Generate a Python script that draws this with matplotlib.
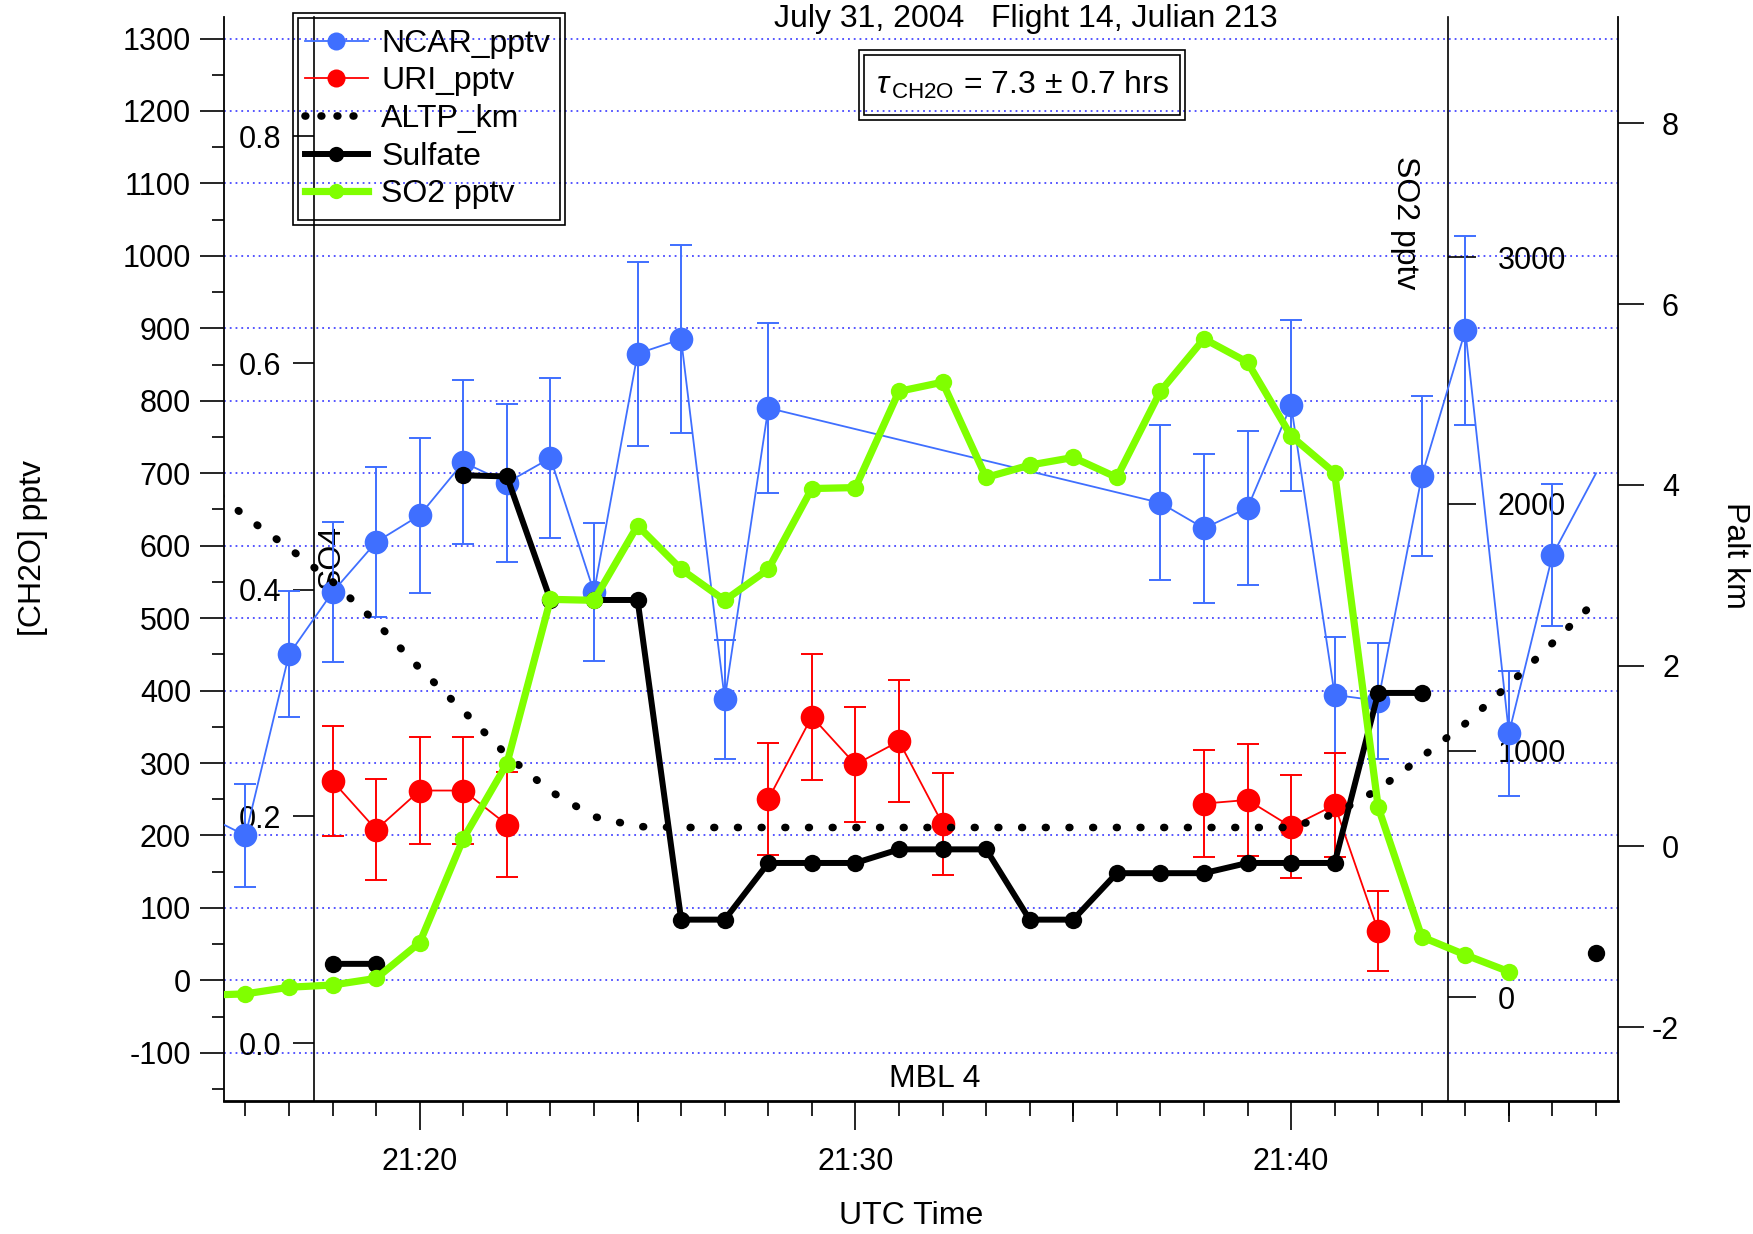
import numpy as np
import matplotlib
matplotlib.use("Agg")
import matplotlib.pyplot as plt
from matplotlib.ticker import FixedLocator, MultipleLocator, FormatStrFormatter
from matplotlib.patches import Rectangle
from matplotlib.lines import Line2D

plt.rcParams['font.family'] = ['Liberation Sans', 'DejaVu Sans']
plt.rcParams['axes.unicode_minus'] = False
plt.rcParams['mathtext.fontset'] = 'custom'
plt.rcParams['mathtext.rm'] = 'Liberation Sans'
plt.rcParams['mathtext.it'] = 'Liberation Sans:italic'

nan = np.nan

# time axis in minutes after 21:00 UTC
xticks = [20, 30, 40]
xticklabels = ['21:20', '21:30', '21:40']

# NCAR CH2O (pptv) with 1-sigma bars
ncar_t = [15, 16, 17, 18, 19, 20, 21, 22, 23, 24, 25, 26, 27, 28,
          37, 38, 39, 40, 41, 42, 43, 44, 45, 46, 47]
ncar = [230, 200, 450, 536, 605, 642, 715, 687, 721, 536, 865, 885, 388, 790,
        659, 624, 652, 794, 394, 386, 696, 897, 341, 587, 700]
ncar_err = [nan, 71, 87, 96, 103, 107, 113, 109, 111, 95, 127, 130, 82, 118,
            107, 103, 106, 118, 80, 80, 110, 130, 86, 98, nan]

# URI CH2O (pptv)
uri_t = list(range(18, 43))
uri = [275, 208, 262, 262, 215, nan, nan, nan, nan, nan,
       250, 364, 298, 330, 216, nan, nan, nan, nan, nan,
       244, 249, 212, 242, 68]
uri_err = [76, 70, 74, 74, 72, nan, nan, nan, nan, nan,
           77, 87, 79, 84, 70, nan, nan, nan, nan, nan,
           74, 77, 71, 72, 55]

# pressure altitude (km)
alt_t = list(range(15, 48))
altp = [4.05, 3.65, 3.30, 2.93, 2.48, 1.97, 1.50, 1.01, 0.61, 0.33, 0.22,
        0.21, 0.21, 0.21, 0.21, 0.21, 0.21, 0.21, 0.21, 0.21, 0.21, 0.21,
        0.21, 0.21, 0.21, 0.21, 0.36, 0.63, 0.99, 1.36, 1.79, 2.25, 2.72]

# sulfate (SO4 axis)
so4_t = list(range(18, 48))
so4 = [0.070, 0.070, nan, 0.501, 0.500, 0.391, 0.391, 0.391, 0.109, 0.109,
       0.159, 0.159, 0.159, 0.171, 0.171, 0.171, 0.109, 0.109, 0.150, 0.150,
       0.150, 0.159, 0.159, 0.159, 0.309, 0.309, nan, nan, nan, 0.080]

# SO2 (pptv)
so2_t = list(range(15, 46))
so2 = [8, 14, 41, 50, 77, 222, 643, 947, 1613, 1609, 1912, 1735, 1609, 1735,
       2062, 2066, 2456, 2493, 2107, 2157, 2188, 2107, 2456, 2669, 2574, 2275,
       2125, 770, 245, 172, 104]

blue = '#3f6fff'
red = '#ff0000'
green = '#80ff00'
gridc = '#4848ff'
FS = 23
TS = 22

fig = plt.figure(figsize=(17.53, 12.34), dpi=100)
ax = fig.add_axes([0.1276, 0.1075, 0.7953, 0.8789])

# main CH2O axis
ax.set_xlim(15.5, 47.5)
ax.set_ylim(-167, 1330)
ax.yaxis.set_major_locator(FixedLocator(range(-100, 1301, 100)))
ax.yaxis.set_minor_locator(MultipleLocator(50))
ax.grid(axis='y', which='major', color=gridc, lw=1.3, linestyle=(0, (1, 2.2)))
ax.xaxis.set_major_locator(FixedLocator(xticks))
ax.set_xticklabels(xticklabels)
ax.xaxis.set_minor_locator(MultipleLocator(1))
for s in ['top', 'right']:
    ax.spines[s].set_visible(False)
ax.spines['left'].set_linewidth(1.3)
ax.spines['bottom'].set_linewidth(2.0)
ax.tick_params(axis='x', which='major', length=21, width=1.2, pad=12, labelsize=TS)
ax.tick_params(axis='x', which='minor', length=10.5, width=1.2)
ax.tick_params(axis='y', which='major', length=17.5, width=1.2, pad=6, labelsize=TS)
ax.tick_params(axis='y', which='minor', length=8.5, width=1.2)

sec = ax.secondary_xaxis('bottom')
sec.set_xticks([25, 35, 45])
sec.tick_params(length=15, width=1.2, labelbottom=False)
sec.spines['bottom'].set_visible(False)

def bare_twin(z, lims):
    t = ax.twinx()
    t.set_zorder(z)
    t.set_ylim(*lims)
    for s in t.spines.values():
        s.set_visible(False)
    t.set_yticks([])
    return t

# SO4 axis, drawn inside the plot near the left edge
a4 = bare_twin(1, (-0.0513, 0.9055))
a4.spines['left'].set_visible(True)
a4.spines['left'].set_position(('axes', 0.065))
a4.spines['left'].set_linewidth(1.2)
a4.yaxis.set_ticks_position('left')
a4.set_yticks([0.0, 0.2, 0.4, 0.6, 0.8])
a4.yaxis.set_major_formatter(FormatStrFormatter('%.1f'))
a4.tick_params(axis='y', length=15, width=1.2, pad=9, labelsize=TS)
a4.text(0.0777, 0.502, 'SO4', transform=a4.transAxes, rotation=90,
        ha='center', va='center', fontsize=FS)

# SO2 axis, drawn inside the plot near the right edge
a2 = bare_twin(2, (-421.5, 3974))
a2.spines['right'].set_visible(True)
a2.spines['right'].set_position(('axes', 0.878))
a2.spines['right'].set_linewidth(1.2)
a2.yaxis.set_ticks_position('right')
a2.set_yticks([0, 1000, 2000, 3000])
a2.tick_params(axis='y', length=20, width=1.2, pad=16, labelsize=TS)
a2.text(0.8474, 0.8098, 'SO2 pptv', transform=a2.transAxes, rotation=-90,
        ha='center', va='center', fontsize=FS)

# CH2O data
dch = bare_twin(3, ax.get_ylim())
dch.plot(ncar_t, ncar, color=blue, lw=1.3)
dch.plot(ncar_t[1:-1], ncar[1:-1], 'o', color=blue, ms=17, mew=0)
dch.errorbar(ncar_t, ncar, yerr=ncar_err, fmt='none', ecolor=blue,
             elinewidth=1.4, capsize=8, capthick=1.4)
dch.plot(uri_t, uri, color=red, lw=1.3, marker='o', ms=17, mew=0)
dch.errorbar(uri_t, uri, yerr=uri_err, fmt='none', ecolor=red,
             elinewidth=1.4, capsize=8, capthick=1.4)

# altitude on the outer right axis
dalt = bare_twin(4, (-2.82, 9.18))
dalt.spines['right'].set_visible(True)
dalt.spines['right'].set_linewidth(1.3)
dalt.set_yticks(range(-2, 9, 2))
dalt.tick_params(axis='y', length=18.5, width=1.2, pad=25.5, labelsize=TS)
for lbl in dalt.get_yticklabels():
    lbl.set_ha('right')
dalt.plot(alt_t, altp, color='black', lw=5.5, linestyle=(0, (0.1, 3.0)),
          dash_capstyle='round')

ds4 = bare_twin(5, a4.get_ylim())
ds4.plot(so4_t, so4, color='black', lw=4.3, marker='o', ms=12.5, mew=0)

ds2 = bare_twin(6, a2.get_ylim())
ds2.plot(so2_t, so2, color=green, lw=5.2, marker='o', ms=12.5, mew=0)

# legend with double border
handles = [
    Line2D([], [], color=blue, lw=1.3, marker='o', ms=13, mew=0),
    Line2D([], [], color=red, lw=1.3, marker='o', ms=13, mew=0),
    Line2D([], [], color='black', lw=5.5, linestyle=(0, (0.1, 2.0)), dash_capstyle='round'),
    Line2D([], [], color='black', lw=4.3, marker='o', ms=11, mew=0),
    Line2D([], [], color=green, lw=5.2, marker='o', ms=11, mew=0),
]
labels = ['NCAR_pptv', 'URI_pptv', 'ALTP_km', 'Sulfate', 'SO2 pptv']
ds2.legend(handles, labels, loc='upper left', bbox_to_anchor=(0.058, 0.989),
           frameon=False, fontsize=FS, handlelength=2.0, handletextpad=0.4,
           labelspacing=0.24, borderpad=0, borderaxespad=0)

def double_box(a, x0, y0, x1, y1):
    dx, dy = 0.0036, 0.0046
    a.add_patch(Rectangle((x0, y0), x1 - x0, y1 - y0, transform=a.transAxes,
                          fill=False, lw=1.2, clip_on=False))
    a.add_patch(Rectangle((x0 + dx, y0 + dy), x1 - x0 - 2 * dx, y1 - y0 - 2 * dy,
                          transform=a.transAxes, fill=False, lw=1.2, clip_on=False))

double_box(ds2, 0.0498, 0.8083, 0.2450, 1.0036)

# lifetime box and annotations
double_box(ds2, 0.4557, 0.9048, 0.6896, 0.9694)
ds2.text(0.5727, 0.937, r'$\tau_{\,\mathrm{CH2O}}$ = 7.3 ± 0.7 hrs', transform=ds2.transAxes,
         ha='center', va='center', fontsize=FS)
ds2.text(0.5756, 0.998, 'July 31, 2004   Flight 14, Julian 213', transform=ds2.transAxes,
         ha='center', va='center', fontsize=FS)
ds2.text(0.51, 0.0206, 'MBL 4', transform=ds2.transAxes, ha='center', va='center',
         fontsize=FS)

fig.text(0.0191, 0.556, '[CH2O] pptv', rotation=90, ha='center', va='center', fontsize=FS)
fig.text(0.9897, 0.55, 'Palt km', rotation=-90, ha='center', va='center', fontsize=FS)
fig.text(0.5197, 0.0146, 'UTC Time', ha='center', va='center', fontsize=FS)

fig.savefig('out.png', dpi=100)
